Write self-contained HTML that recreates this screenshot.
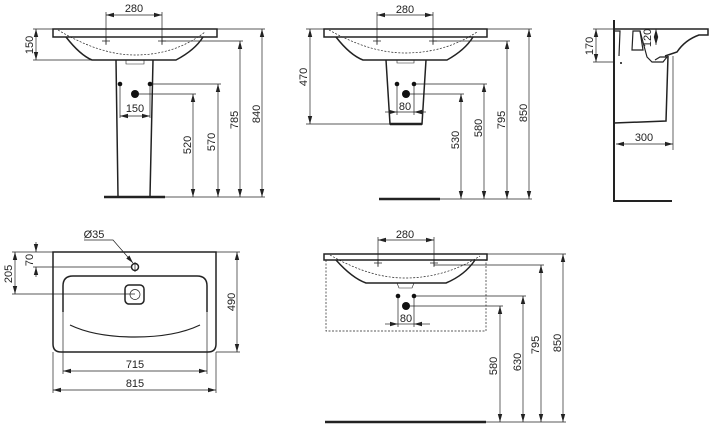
<!DOCTYPE html>
<html><head><meta charset="utf-8"><style>
html,body{margin:0;padding:0;background:#fff;width:713px;height:425px;overflow:hidden}
text{font-family:"Liberation Sans",Arial,sans-serif;font-size:11px;fill:#222}
</style></head><body>
<svg width="713" height="425" viewBox="0 0 713 425" xmlns="http://www.w3.org/2000/svg">
<defs>
<marker id="a" markerWidth="8" markerHeight="6" refX="8" refY="3" orient="auto-start-reverse" markerUnits="userSpaceOnUse"><path d="M0,0.8 L8,3 L0,5.2 z" fill="#222"/></marker>
</defs>
<g stroke="#222" fill="none" stroke-width="0.7">
<path d="M53,29 H217 V37 H53 Z" stroke-width="1.5"/>
<path d="M66,37 Q80,55 92,60 H176 Q195,50 203,37" stroke-width="1.5"/>
<path d="M58,30 Q100,55 135,55 Q175,55 205,32" stroke-dasharray="2,1.5"/>
<path d="M126,60 v4 h18 v-4" stroke-width="0.6"/>
<path d="M116,60 L118,196 M153,60 L150,196" stroke-width="1.5"/>
<path d="M104,197 H165" stroke-width="2.5"/>
<path d="M106,12 V44 M162,12 V44" />
<path d="M106,15 H162" marker-start="url(#a)" marker-end="url(#a)"/>
<path d="M102,41 h8 M106,37 v8 M158,41 h8 M162,37 v8"/>
<path d="M33,29 H53 M33,60 H92"/>
<path d="M36,29 V60" marker-start="url(#a)" marker-end="url(#a)"/>
<path d="M120,84 V118 M150,84 V118"/>
<path d="M120,116 H150" marker-start="url(#a)" marker-end="url(#a)"/>
<path d="M135,94 H196 M150,84 H221 M162,41 H243 M217,29 H265 M165,197 H265"/>
<path d="M193,94 V197" marker-start="url(#a)" marker-end="url(#a)"/>
<path d="M218,84 V197" marker-start="url(#a)" marker-end="url(#a)"/>
<path d="M240,41 V197" marker-start="url(#a)" marker-end="url(#a)"/>
<path d="M262,29 V197" marker-start="url(#a)" marker-end="url(#a)"/>
<path d="M324,29 H487 V37 H324 Z" stroke-width="1.5"/>
<path d="M336,37 Q350,55 363,60 H447 Q465,50 473,37" stroke-width="1.5"/>
<path d="M329,30 Q370,53 405,53 Q445,53 477,32" stroke-dasharray="2,1.5"/>
<path d="M397,60 v3 h17 v-3" stroke-width="0.6"/>
<path d="M386,60 L390,124 H422 L426,60" stroke-width="1.5"/>
<path d="M390,124 H422" stroke-width="2.5"/>
<path d="M379,199 H440" stroke-width="2.5"/>
<path d="M377,12 V44 M433,12 V44"/>
<path d="M377,15 H433" marker-start="url(#a)" marker-end="url(#a)"/>
<path d="M373,41 h8 M377,37 v8 M429,41 h8 M433,37 v8"/>
<path d="M306,29 H324 M306,124 H390"/>
<path d="M310,29 V124" marker-start="url(#a)" marker-end="url(#a)"/>
<path d="M397,84 V115 M414,84 V115"/>
<path d="M397,112 H414"/>
<path d="M397,112 H385" marker-start="url(#a)"/>
<path d="M414,112 H426" marker-start="url(#a)"/>
<path d="M406,94 H464 M414,84 H487 M433,41 H510 M487,29 H532 M440,199 H532"/>
<path d="M461,94 V199" marker-start="url(#a)" marker-end="url(#a)"/>
<path d="M484,84 V199" marker-start="url(#a)" marker-end="url(#a)"/>
<path d="M507,41 V199" marker-start="url(#a)" marker-end="url(#a)"/>
<path d="M529,29 V199" marker-start="url(#a)" marker-end="url(#a)"/>
<path d="M614,20 V201 H672" stroke-width="2"/>
<path d="M614,29 H708 V35 H699 Q685,40 677,52 L665,56" stroke-width="1.5"/>
<path d="M615,31 H620 L619,56 M633,31 H640 L643,50 H632 Z" stroke-width="1.2"/>
<path d="M640,31 L647,57 L652,62 H663 L667,57 H660 L655,60" stroke-width="1.2"/>
<path d="M668,56 L666,121 L614,123" stroke-width="1.5"/>
<path d="M593,29 H614 M593,62 H614"/>
<path d="M596,29 V62" marker-start="url(#a)" marker-end="url(#a)"/>
<path d="M656,29 V45" marker-start="url(#a)" marker-end="url(#a)"/>
<path d="M673,56 V150"/>
<path d="M616,144 H673" marker-start="url(#a)" marker-end="url(#a)"/>
<path d="M53,252 H216 V344 Q216,352 208,352 H61 Q53,352 53,344 Z" stroke-width="1.5"/>
<path d="M63,312 V286 Q63,276 73,276 H197 Q207,276 207,286 V312" stroke-width="1.5"/>
<path d="M70,325 Q95,337 135,337 Q175,337 200,325" stroke-width="1.2"/>
<rect x="125" y="285" width="19" height="19" rx="4" stroke-width="1.5"/>
<circle cx="135" cy="294.5" r="5"/>
<circle cx="135" cy="267" r="3.5" stroke-width="1.5"/>
<path d="M135,262 V272"/>
<path d="M84,240 H113 L133,263" marker-end="url(#a)"/>
<path d="M33,252 H53 M33,267 H131 M12,252 H33 M12,294 H135"/>
<path d="M36,242 V252" marker-end="url(#a)"/>
<path d="M36,277 V267" marker-end="url(#a)"/>
<path d="M15,252 V294" marker-start="url(#a)" marker-end="url(#a)"/>
<path d="M216,252 H240 M216,352 H240"/>
<path d="M237,252 V352" marker-start="url(#a)" marker-end="url(#a)"/>
<path d="M63,312 V374 M207,312 V374 M53,352 V393 M216,352 V393"/>
<path d="M63,371 H207" marker-start="url(#a)" marker-end="url(#a)"/>
<path d="M53,390 H216" marker-start="url(#a)" marker-end="url(#a)"/>
<path d="M324,254 H487 V260 H324 Z" stroke-width="1.5"/>
<path d="M336,260 Q352,278 366,283 H446 Q465,275 475,260" stroke-width="1.5"/>
<path d="M330,255 Q370,278 405,278 Q445,278 480,256" stroke-dasharray="2,1.5"/>
<path d="M397,283 l2,5 h13 l2,-5" stroke-width="0.6"/>
<path d="M326,260 V331 H486 V260" stroke-dasharray="2,1.5"/>
<path d="M378,237 V266 M434,237 V266"/>
<path d="M378,240 H434" marker-start="url(#a)" marker-end="url(#a)"/>
<path d="M374,263 h8 M378,259 v8 M430,263 h8 M434,259 v8"/>
<path d="M398,296 V327 M414,296 V327"/>
<path d="M398,324 H385" marker-start="url(#a)"/>
<path d="M414,324 H430" marker-start="url(#a)"/>
<path d="M398,324 H414"/>
<path d="M325,422 H486" stroke-width="2.5"/>
<path d="M406,306 H503 M414,296 H526 M434,265 H544 M487,254 H566 M486,422 H566"/>
<path d="M500,306 V422" marker-start="url(#a)" marker-end="url(#a)"/>
<path d="M523,296 V422" marker-start="url(#a)" marker-end="url(#a)"/>
<path d="M541,265 V422" marker-start="url(#a)" marker-end="url(#a)"/>
<path d="M563,254 V422" marker-start="url(#a)" marker-end="url(#a)"/>
</g>
<g fill="#111">
<circle cx="120" cy="84" r="2.3"/><circle cx="150" cy="84" r="2.3"/><circle cx="135" cy="94" r="4"/>
<circle cx="397" cy="84" r="2.3"/><circle cx="414" cy="84" r="2.3"/><circle cx="406" cy="94" r="4"/>
<circle cx="398" cy="296" r="2.3"/><circle cx="414" cy="296" r="2.3"/><circle cx="406" cy="306" r="4"/>
<circle cx="621" cy="63" r="1"/>
</g>
<g text-anchor="middle">
<text x="134" y="12">280</text>
<text x="135" y="112">150</text>
<text transform="translate(33,45) rotate(-90)">150</text>
<text transform="translate(191,145) rotate(-90)">520</text>
<text transform="translate(215,142) rotate(-90)">570</text>
<text transform="translate(238,120) rotate(-90)">785</text>
<text transform="translate(260,114) rotate(-90)">840</text>
<text x="405" y="13">280</text>
<text x="405" y="110">80</text>
<text transform="translate(307,77) rotate(-90)">470</text>
<text transform="translate(459,140) rotate(-90)">530</text>
<text transform="translate(482,128) rotate(-90)">580</text>
<text transform="translate(505,120) rotate(-90)">795</text>
<text transform="translate(527,113) rotate(-90)">850</text>
<text transform="translate(593,46) rotate(-90)">170</text>
<text transform="translate(651,38) rotate(-90)">120</text>
<text x="644" y="141">300</text>
<text x="94" y="238">Ø35</text>
<text transform="translate(33,260) rotate(-90)">70</text>
<text transform="translate(12,274) rotate(-90)">205</text>
<text transform="translate(235,302) rotate(-90)">490</text>
<text x="135" y="368">715</text>
<text x="135" y="387">815</text>
<text x="405" y="238">280</text>
<text x="406" y="322">80</text>
<text transform="translate(497,366) rotate(-90)">580</text>
<text transform="translate(521,362) rotate(-90)">630</text>
<text transform="translate(539,345) rotate(-90)">795</text>
<text transform="translate(561,343) rotate(-90)">850</text>
</g>
</svg>
</body></html>
